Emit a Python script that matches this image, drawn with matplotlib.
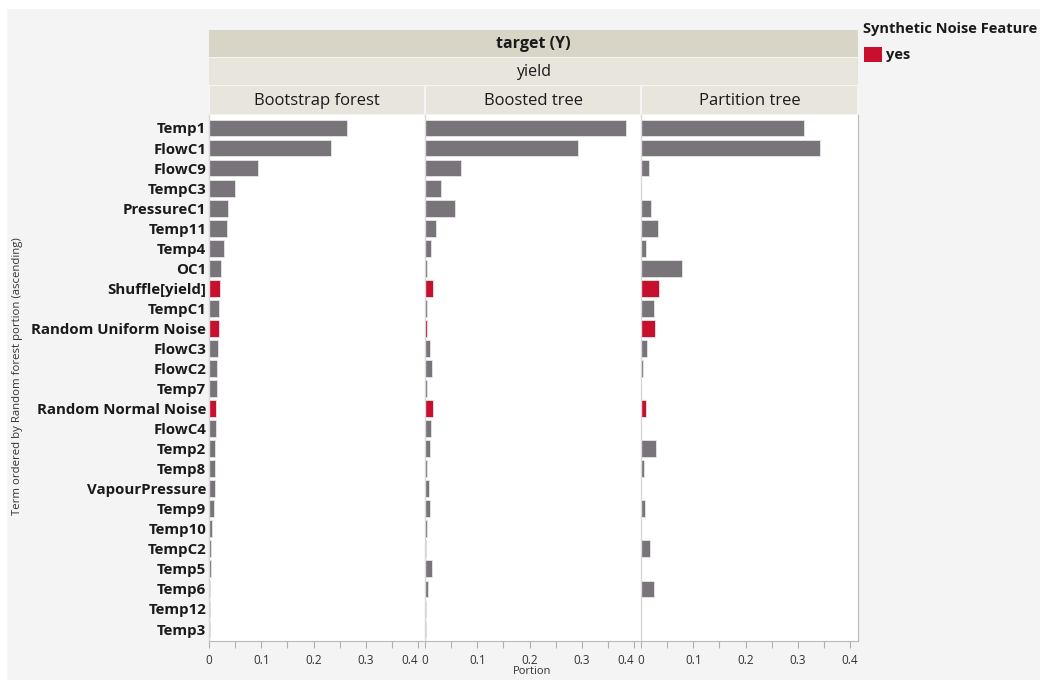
import matplotlib
matplotlib.use("Agg")
import matplotlib.pyplot as plt
from matplotlib.patches import Rectangle
import numpy as np

plt.rcParams['font.family'] = ['Open Sans', 'DejaVu Sans']

terms = ["Temp1", "FlowC1", "FlowC9", "TempC3", "PressureC1", "Temp11", "Temp4",
         "OC1", "Shuffle[yield]", "TempC1", "Random Uniform Noise", "FlowC3",
         "FlowC2", "Temp7", "Random Normal Noise", "FlowC4", "Temp2", "Temp8",
         "VapourPressure", "Temp9", "Temp10", "TempC2", "Temp5", "Temp6",
         "Temp12", "Temp3"]

noise_terms = ["Shuffle[yield]", "Random Uniform Noise", "Random Normal Noise"]

models = ["Bootstrap forest", "Boosted tree", "Partition tree"]

bootstrap_forest = [0.265, 0.233, 0.094, 0.049, 0.036, 0.035, 0.029, 0.023, 0.021,
                    0.020, 0.020, 0.018, 0.016, 0.015, 0.014, 0.014, 0.012, 0.012,
                    0.011, 0.009, 0.006, 0.003, 0.003, 0.0025, 0.002, 0.001]
boosted_tree = [0.384, 0.293, 0.068, 0.031, 0.057, 0.021, 0.0115, 0.004, 0.016,
                0.004, 0.003, 0.010, 0.013, 0.004, 0.015, 0.011, 0.010, 0.004,
                0.007, 0.009, 0.004, 0.0025, 0.014, 0.006, 0.002, 0.002]
partition_tree = [0.312, 0.342, 0.016, 0.0, 0.020, 0.032, 0.009, 0.078, 0.034,
                  0.024, 0.027, 0.0115, 0.004, 0.0, 0.010, 0.0, 0.029, 0.005,
                  0.0, 0.008, 0.0, 0.018, 0.0, 0.024, 0.0, 0.0]

values = [bootstrap_forest, boosted_tree, partition_tree]
x_ticks = [0, 0.1, 0.2, 0.3, 0.4]
x_tick_labels = ["0", "0.1", "0.2", "0.3", "0.4"]

W, H = 1040, 682
BG = "#f4f4f4"
GRAY = "#78747a"
RED = "#c8102e"
HEAD_DARK = "#d9d5c6"
HEAD_LIGHT = "#e8e5dc"
TEXT = "#1a1a1a"

fig = plt.figure(figsize=(W / 100, H / 100), dpi=100)
fig.patch.set_facecolor("white")


def fx(px):
    return px / W


def fy(py):
    return 1 - py / H


# light gray frame behind everything
fig.patches.append(Rectangle((fx(7), fy(680)), fx(1040 - 7), (680 - 9) / H,
                             transform=fig.transFigure, facecolor=BG,
                             edgecolor="none", zorder=-10))

# header bands
left_px, right_px = 209, 858
fig.patches.append(Rectangle((fx(left_px), fy(57)), fx(right_px - left_px), 27 / H,
                             transform=fig.transFigure, facecolor=HEAD_DARK,
                             edgecolor="none", zorder=-5))
fig.patches.append(Rectangle((fx(left_px), fy(85)), fx(right_px - left_px), 27 / H,
                             transform=fig.transFigure, facecolor=HEAD_LIGHT,
                             edgecolor="none", zorder=-5))
fig.text(fx((left_px + right_px) / 2), fy(44), "target (Y)", ha="center", va="center",
         fontsize=11.5, fontweight="bold", color=TEXT)
fig.text(fx((left_px + right_px) / 2), fy(72), "yield", ha="center", va="center",
         fontsize=11.5, color=TEXT)

panel_edges = [209, 425, 641, 858]
top_px, bottom_px = 115, 641
n = len(terms)
row0_px, row_step = 128, 20.04
y_top = -(row0_px - top_px) / row_step
y_bottom = (n - 1) + (bottom_px - (row0_px + (n - 1) * row_step)) / row_step

for i, model in enumerate(models):
    x0, x1 = panel_edges[i], panel_edges[i + 1]
    # panel title cell
    fig.patches.append(Rectangle((fx(x0 + 1), fy(114)), fx(x1 - x0 - 2), 28 / H,
                                 transform=fig.transFigure, facecolor=HEAD_LIGHT,
                                 edgecolor="none", zorder=-5))
    fig.text(fx((x0 + x1) / 2), fy(101), model, ha="center", va="center",
             fontsize=12, color=TEXT)

    ax = fig.add_axes([fx(x0), fy(bottom_px), fx(x1 - x0), (bottom_px - top_px) / H])
    ax.set_zorder(2)
    ax.set_facecolor("white")
    vals = np.array(values[i])
    ypos = np.arange(n)
    colors = [RED if t in noise_terms else GRAY for t in terms]
    ax.barh(ypos, vals, height=0.84, color=colors, edgecolor="#e6e6e6",
            linewidth=0.6, zorder=2)
    xmax = 0.4 + (x1 - x0 - 209) / 523
    ax.set_xlim(0, xmax)
    ax.set_ylim(y_bottom, y_top)

    ax.spines["top"].set_visible(False)
    ax.spines["left"].set_color("#d8d8d8")
    ax.spines["left"].set_linewidth(1.0)
    ax.spines["right"].set_visible(i == 2)
    ax.spines["right"].set_color("#b8b8b8")
    ax.spines["bottom"].set_color("#b8b8b8")

    ax.set_xticks(x_ticks)
    ax.set_xticklabels(x_tick_labels)
    ax.set_xticks([0.05, 0.15, 0.25, 0.35], minor=True)
    ax.tick_params(axis="x", which="both", direction="out", length=5, width=0.8,
                   color="#b0b0b0", labelsize=8.5, labelcolor="#333333", pad=4)
    if i < 2:
        last = ax.get_xticklabels()[-1]
        last.set_horizontalalignment("right")

    if i == 0:
        ax.set_yticks(ypos)
        ax.set_yticklabels(terms, fontsize=10.8, fontweight="bold", color=TEXT)
        ax.tick_params(axis="y", length=0, pad=2)
    else:
        ax.set_yticks([])

fig.text(fx(532), fy(672), "Portion", ha="center", va="center", fontsize=8,
         color="#333333")
fig.text(fx(18), fy(376), "Term ordered by Random forest portion (ascending)",
         ha="center", va="center", rotation=90, fontsize=8.2, color="#333333")

# legend
fig.text(fx(863), fy(29), "Synthetic Noise Feature", ha="left", va="center",
         fontsize=10.5, fontweight="bold", color=TEXT)
fig.patches.append(Rectangle((fx(864), fy(62)), fx(18), 15 / H,
                             transform=fig.transFigure, facecolor=RED,
                             edgecolor="none", zorder=2))
fig.text(fx(886), fy(55), "yes", ha="left", va="center", fontsize=10.5,
         fontweight="bold", color=TEXT)

fig.savefig("out.png", dpi=100, facecolor=fig.get_facecolor())
